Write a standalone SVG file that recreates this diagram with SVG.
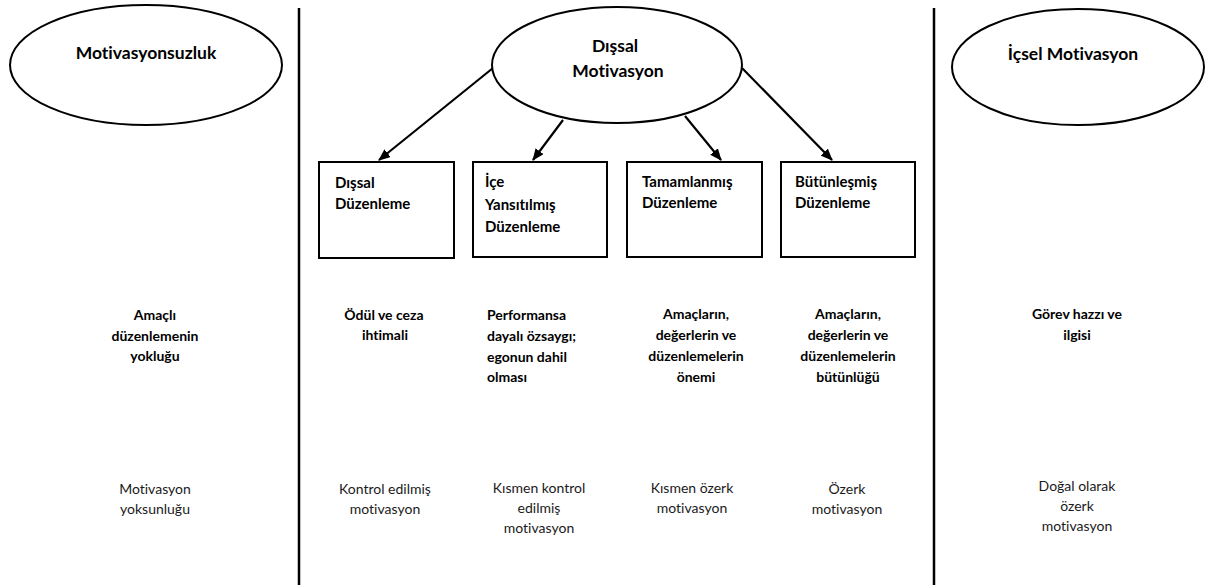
<svg xmlns="http://www.w3.org/2000/svg" width="1208" height="587" viewBox="0 0 1208 587">
<defs>
<style>
.shape{fill:#fff;stroke:#000;stroke-width:2}
.div{stroke:#000;stroke-width:2.5}
.conn{stroke:#000;stroke-width:2.2;fill:none}
text{font-variant-ligatures:none}
.t{font-family:Lato,"Liberation Sans",sans-serif;font-weight:bold;fill:#000}
.title{font-size:17.5px}
.box{font-size:15px}
.mid{font-size:14px}
.low{font-family:Lato,"Liberation Sans",sans-serif;font-size:14px;fill:#1a1a1a}
.c{text-anchor:middle}
</style>
<marker id="arr" markerWidth="12" markerHeight="10" refX="11" refY="5" orient="auto" markerUnits="userSpaceOnUse">
<path d="M0,0 L12,5 L0,10 Z" fill="#000"/>
</marker>
</defs>
<rect width="1208" height="587" fill="#fff"/>
<g id="dividers">
<line class="div" x1="299" y1="8" x2="299" y2="585"/>
<line class="div" x1="934" y1="8" x2="934" y2="585"/>
</g>
<g id="connectors">
<line class="conn" x1="493" y1="68" x2="379" y2="160" marker-end="url(#arr)"/>
<line class="conn" x1="563" y1="120" x2="533" y2="160" marker-end="url(#arr)"/>
<line class="conn" x1="685" y1="116" x2="721" y2="160" marker-end="url(#arr)"/>
<line class="conn" x1="742" y1="68" x2="832" y2="160" marker-end="url(#arr)"/>
</g>
<g id="node-motivasyonsuzluk">
<ellipse class="shape" cx="146" cy="65" rx="136" ry="60"/>
<text class="t title c" x="146" y="59">Motivasyonsuzluk</text>
</g>
<g id="node-dissal-motivasyon">
<ellipse class="shape" cx="617" cy="65" rx="125" ry="58"/>
<text class="t title c" x="615" y="52">Dışsal</text>
<text class="t title c" x="618" y="77">Motivasyon</text>
</g>
<g id="node-icsel-motivasyon">
<ellipse class="shape" cx="1078" cy="67" rx="126" ry="58"/>
<text class="t title c" x="1073" y="60">İçsel Motivasyon</text>
</g>
<g id="node-dissal-duzenleme">
<rect class="shape" x="319" y="162" width="135" height="96"/>
<text class="t box" x="335" y="188">Dışsal</text>
<text class="t box" x="335" y="209">Düzenleme</text>
</g>
<g id="node-ice-yansitilmis">
<rect class="shape" x="473" y="162" width="134" height="95"/>
<text class="t box" x="485" y="187">İçe</text>
<text class="t box" x="485" y="210">Yansıtılmış</text>
<text class="t box" x="485" y="232">Düzenleme</text>
</g>
<g id="node-tamamlanmis">
<rect class="shape" x="627" y="162" width="135" height="95"/>
<text class="t box" x="642" y="187">Tamamlanmış</text>
<text class="t box" x="642" y="208">Düzenleme</text>
</g>
<g id="node-butunlesmis">
<rect class="shape" x="781" y="162" width="134" height="95"/>
<text class="t box" x="795" y="187">Bütünleşmiş</text>
<text class="t box" x="795" y="208">Düzenleme</text>
</g>
<g id="mid-row">
<text class="t mid c" x="155" y="320">Amaçlı</text>
<text class="t mid c" x="155" y="341">düzenlemenin</text>
<text class="t mid c" x="155" y="361">yokluğu</text>
<text class="t mid c" x="384" y="320">Ödül ve ceza</text>
<text class="t mid c" x="385" y="340">ihtimali</text>
<text class="t mid" x="487" y="320">Performansa</text>
<text class="t mid" x="487" y="341">dayalı özsaygı;</text>
<text class="t mid" x="487" y="362">egonun dahil</text>
<text class="t mid" x="487" y="382">olması</text>
<text class="t mid c" x="696" y="319">Amaçların,</text>
<text class="t mid c" x="696" y="340">değerlerin ve</text>
<text class="t mid c" x="696" y="361">düzenlemelerin</text>
<text class="t mid c" x="696" y="382">önemi</text>
<text class="t mid c" x="848" y="319">Amaçların,</text>
<text class="t mid c" x="848" y="340">değerlerin ve</text>
<text class="t mid c" x="848" y="361">düzenlemelerin</text>
<text class="t mid c" x="848" y="382">bütünlüğü</text>
<text class="t mid c" x="1077" y="319">Görev hazzı ve</text>
<text class="t mid c" x="1077" y="340">ilgisi</text>
</g>
<g id="bottom-row">
<text class="low c" x="155" y="494">Motivasyon</text>
<text class="low c" x="155" y="514">yoksunluğu</text>
<text class="low c" x="385" y="494">Kontrol edilmiş</text>
<text class="low c" x="385" y="514">motivasyon</text>
<text class="low c" x="539" y="493">Kısmen kontrol</text>
<text class="low c" x="539" y="513">edilmiş</text>
<text class="low c" x="539" y="533">motivasyon</text>
<text class="low c" x="692" y="493">Kısmen özerk</text>
<text class="low c" x="692" y="513">motivasyon</text>
<text class="low c" x="847" y="494">Özerk</text>
<text class="low c" x="847" y="514">motivasyon</text>
<text class="low c" x="1077" y="491">Doğal olarak</text>
<text class="low c" x="1077" y="511">özerk</text>
<text class="low c" x="1077" y="531">motivasyon</text>
</g>
</svg>
